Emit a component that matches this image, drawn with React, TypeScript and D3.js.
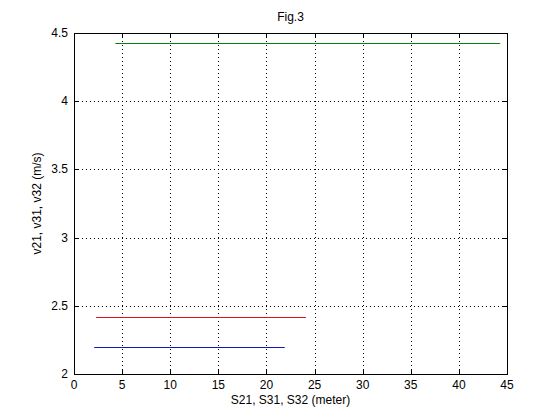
import React from "react";
import * as d3 from "d3";

const xTicks = [0, 5, 10, 15, 20, 25, 30, 35, 40, 45];
const yTicks = [2, 2.5, 3, 3.5, 4, 4.5];
const seriesNames = ["v21", "v31", "v32"];
const seriesColors = ["#1414c8", "#d81818", "#0a800a"];
const seriesX0 = [2.1, 2.3, 4.3];
const seriesX1 = [21.9, 24.1, 44.3];
const seriesY = [2.196, 2.416, 4.43];

export default function App() {
  const W = 560, H = 420;
  const left = 74, right = 507, top = 33, bottom = 374;
  const x = d3.scaleLinear().domain([0, 45]).range([left, right]);
  const y = d3.scaleLinear().domain([2, 4.5]).range([bottom, top]);
  const px = (v: number) => Math.round(v) + 0.5;
  const font = "'Liberation Sans', Arial, sans-serif";
  const line = d3.line<[number, number]>().x(d => x(d[0])).y(d => px(y(d[1])));
  const tl = 5;
  return (
    <svg width={W} height={H} style={{ position: "absolute", left: 0, top: 0, background: "#fff" }}>
      <rect x={0} y={0} width={W} height={H} fill="#fff" />
      {xTicks.slice(1, -1).map(t => (
        <line key={"gx" + t} x1={px(x(t))} x2={px(x(t))} y1={top} y2={bottom} stroke="#000" strokeWidth={1} strokeDasharray="1,3" />
      ))}
      {yTicks.slice(1, -1).map(t => (
        <line key={"gy" + t} x1={left} x2={right} y1={px(y(t))} y2={px(y(t))} stroke="#000" strokeWidth={1} strokeDasharray="1,3" />
      ))}
      {seriesNames.map((n, i) => (
        <path key={n} d={line([[seriesX0[i], seriesY[i]], [seriesX1[i], seriesY[i]]]) || ""} stroke={seriesColors[i]} strokeWidth={1} fill="none" />
      ))}
      <rect x={left + 0.5} y={top + 0.5} width={right - left} height={bottom - top} fill="none" stroke="#000" strokeWidth={1} />
      {xTicks.map(t => (
        <g key={"tx" + t}>
          <line x1={px(x(t))} x2={px(x(t))} y1={bottom} y2={bottom - tl} stroke="#000" />
          <line x1={px(x(t))} x2={px(x(t))} y1={top} y2={top + tl} stroke="#000" />
          <text x={x(t)} y={bottom + 15} textAnchor="middle" fontFamily={font} fontSize={12}>{t}</text>
        </g>
      ))}
      {yTicks.map(t => (
        <g key={"ty" + t}>
          <line x1={left} x2={left + tl} y1={px(y(t))} y2={px(y(t))} stroke="#000" />
          <line x1={right} x2={right - tl} y1={px(y(t))} y2={px(y(t))} stroke="#000" />
          <text x={left - 6} y={y(t) + 4} textAnchor="end" fontFamily={font} fontSize={12}>{t}</text>
        </g>
      ))}
      <text x={(left + right) / 2} y={21} textAnchor="middle" fontFamily={font} fontSize={12}>Fig.3</text>
      <text x={(left + right) / 2} y={404} textAnchor="middle" fontFamily={font} fontSize={12}>S21, S31, S32 (meter)</text>
      <text transform={`translate(41,${(top + bottom) / 2}) rotate(-90)`} textAnchor="middle" fontFamily={font} fontSize={12}>v21, v31, v32 (m/s)</text>
    </svg>
  );
}
